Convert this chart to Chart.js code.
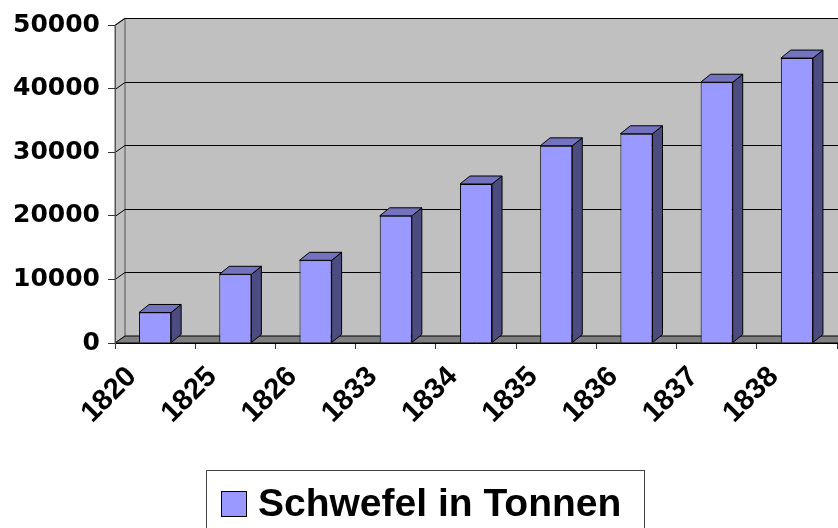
<!DOCTYPE html>
<html>
<head>
<meta charset="utf-8">
<title>Schwefel in Tonnen</title>
<script src="https://cdn.jsdelivr.net/npm/chart.js@4.4.1/dist/chart.umd.min.js"></script>
<style>
  html, body { margin: 0; padding: 0; background: #fff; }
  #wrap { width: 838px; height: 528px; }
</style>
</head>
<body>
<div id="wrap"><canvas id="bar-chart" width="838" height="528"></canvas></div>
<script>
// Data
var years = ['1820', '1825', '1826', '1833', '1834', '1835', '1836', '1837', '1838'];
var schwefel = [4800, 10800, 13000, 20000, 25000, 31000, 32900, 41000, 44800];
var seriesName = 'Schwefel in Tonnen';
var yMin = 0, yMax = 50000, yStep = 10000;

// 3D look (Excel style)
var wall = { dx: 10, dy: 7 };
var box = { dx: 10, dy: 8 };
var frontColor = '#9999FF';
var sideColor = '#4C4C80';
var topColor = '#7373C0';

function poly(ctx, pts, fill) {
    ctx.beginPath();
    ctx.moveTo(pts[0][0], pts[0][1]);
    for (var i = 1; i < pts.length; i++) ctx.lineTo(pts[i][0], pts[i][1]);
    ctx.closePath();
    ctx.fillStyle = fill;
    ctx.fill();
    ctx.stroke();
}

// walls, floor and gridlines behind everything
var wallsPlugin = {
    id: 'walls',
    beforeDraw: function (chart) {
        var ctx = chart.ctx, a = chart.chartArea, y = chart.scales.y;
        var L = a.left, R = a.right, T = a.top, B = a.bottom;
        ctx.save();
        ctx.lineWidth = 1;
        ctx.strokeStyle = '#555';
        // back wall
        ctx.fillStyle = '#C0C0C0';
        ctx.fillRect(L + wall.dx, T - wall.dy, R - L + 20, B - T);
        // left wall
        poly(ctx, [[L, T], [L + wall.dx, T - wall.dy], [L + wall.dx, B - wall.dy], [L, B]], '#C0C0C0');
        // floor
        ctx.strokeStyle = '#000';
        poly(ctx, [[L, B], [L + wall.dx, B - wall.dy], [R + 30, B - wall.dy], [R + 30, B]], '#808080');
        // gridlines
        ctx.strokeStyle = '#000';
        for (var v = yStep; v <= yMax; v += yStep) {
            var py = Math.round(y.getPixelForValue(v)) + 0.5;
            ctx.beginPath();
            ctx.moveTo(L, py);
            ctx.lineTo(L + wall.dx, py - wall.dy);
            ctx.lineTo(R + 30, py - wall.dy);
            ctx.stroke();
        }
        ctx.restore();
    },
    afterDatasetsDraw: function (chart) {
        var ctx = chart.ctx;
        var meta = chart.getDatasetMeta(0);
        ctx.save();
        ctx.lineWidth = 1;
        ctx.strokeStyle = '#000';
        meta.data.forEach(function (bar) {
            var p = bar.getProps(['x', 'y', 'base', 'width'], true);
            var l = p.x - p.width / 2, r = p.x + p.width / 2;
            // side
            poly(ctx, [[r, p.y], [r + box.dx, p.y - box.dy], [r + box.dx, p.base - box.dy], [r, p.base]], sideColor);
            // top
            poly(ctx, [[l, p.y], [l + box.dx, p.y - box.dy], [r + box.dx, p.y - box.dy], [r, p.y]], topColor);
        });
        ctx.restore();
    },
    afterDraw: function (chart) {
        // legend box
        var ctx = chart.ctx;
        var ds = chart.data.datasets[0];
        ctx.save();
        ctx.lineWidth = 1;
        ctx.strokeStyle = '#444';
        ctx.strokeRect(206.5, 470.5, 438, 80);
        ctx.fillStyle = ds.backgroundColor;
        ctx.fillRect(221, 491, 26, 26);
        ctx.strokeStyle = '#000';
        ctx.strokeRect(221.5, 491.5, 25, 25);
        ctx.fillStyle = '#000';
        ctx.font = 'bold 39px "Liberation Sans", Arial, sans-serif';
        ctx.textBaseline = 'alphabetic';
        ctx.fillText(ds.label, 258, 516);
        ctx.restore();
    }
};

var ctx = document.getElementById('bar-chart');

var chartOptions = {
    responsive: false,
    animation: false,
    devicePixelRatio: 1,
    layout: { padding: { top: 25, right: 1, left: 0, bottom: 0 } },
    plugins: {
        legend: { display: false },
        tooltip: { enabled: false }
    },
    scales: {
        x: {
            offset: true,
            grid: { display: true, drawOnChartArea: false, offset: true, tickLength: 6, color: '#333' },
            border: { display: true, color: '#000' },
            ticks: {
                autoSkip: false,
                minRotation: 45,
                maxRotation: 45,
                labelOffset: -23,
                padding: 11,
                color: '#000',
                font: { family: '"Liberation Sans", Arial, sans-serif', size: 29, weight: 'bold' }
            },
            afterFit: function (scale) { scale.height = 185; }
        },
        y: {
            min: yMin,
            max: yMax,
            grid: { display: true, drawOnChartArea: false, tickLength: 7, color: '#333' },
            border: { display: true, color: '#555' },
            ticks: {
                stepSize: yStep,
                padding: 8,
                color: '#000',
                font: { family: '"DejaVu Sans", sans-serif', size: 25, weight: 'bold' },
                callback: function (value) { return String(value); }
            },
            afterFit: function (scale) { scale.width = 115; }
        }
    }
};

var chartData = {
    labels: years,
    datasets: [{
        label: seriesName,
        data: schwefel,
        backgroundColor: frontColor,
        borderColor: '#000',
        borderWidth: 1,
        barPercentage: 0.4,
        categoryPercentage: 1.0
    }]
};

var config = {
    type: 'bar',
    options: chartOptions,
    data: chartData,
    plugins: [wallsPlugin]
};

// Create the chart
var barChart = new Chart(ctx, config);
</script>
</body>
</html>
